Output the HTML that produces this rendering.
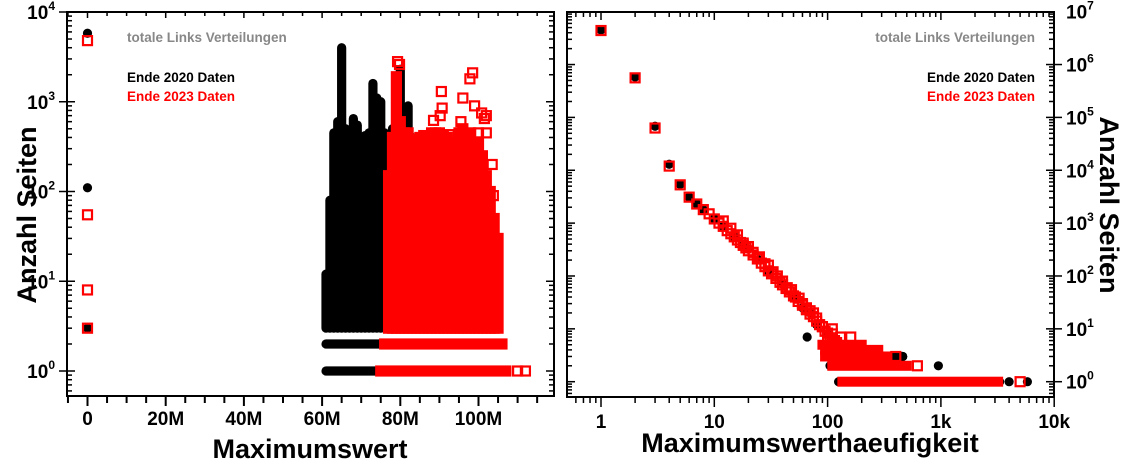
<!DOCTYPE html>
<html><head><meta charset="utf-8"><style>
html,body{margin:0;padding:0;background:#fff}
svg{display:block;font-family:"Liberation Sans",sans-serif}
</style></head><body>
<svg id="chart" width="1123" height="460" viewBox="0 0 1123 460">
<g id="L"></g>
<g id="R"></g>
</svg>
<script>
// ---- Left panel data (Maximumswert in millions, count) ----
const leftBlackBinsM = [61,62,63,64,65,66,67,68,69,70,71,72,73,74,75,76,77,78,79,80,81,82,83];
const leftBlackBinsTop = [12,80,450,600,4000,500,450,650,550,350,420,450,1600,1100,1000,450,400,500,500,2300,450,900,400];
const leftRedBinsM = [77,78,79,80,81,82,83,84,85,86,87,88,89,90,91,92,93,94,95,96,97,98,99,100,101,102,103,104,105];
const leftRedBinsTop = [150,400,1900,600,450,450,380,370,400,380,400,450,450,450,420,400,350,300,450,500,400,450,350,350,250,150,100,50,30];
const leftBlackRows = [[2,61,77],[1,61,75]];
const leftRedRows = [[2,76,106],[1,75,107]];
const leftBlackPtsX = [0,0,0];
const leftBlackPtsY = [5800,110,3];
const leftRedPtsX = [0,0,0,0,79.3,79.8,90.5,90.7,90.2,88.5,96,97.8,98.5,99,100.8,101.5,102,95.5,100,102,103.5,103.8,86,92.5,110,112];
const leftRedPtsY = [4800,55,8,3,2800,2600,1300,850,700,620,1100,1800,2100,900,750,650,700,600,450,450,200,90,420,430,1,1];
const leftXTicks = [0,20,40,60,80,100];
const leftXTickLabels = ["0","20M","40M","60M","80M","100M"];
const leftYExp = [0,1,2,3,4];

// ---- Right panel data (frequency, count) ----
const rightRedX = [1,2,3,4,5,6,7,8,9,10,11,12,13,14,15,16,17,18,19,20,22,24,26,28,30,32,35,38,40,43,46,50,55,60,65,70,75,80,90,100,110,120,
  12,14,16,18,20,22,25,28,30,33,36,40,44,48,52,56,60,65,70,75,80,85,90,95,100,105,110,115,120,
  110,130,160,400,620,5000];
const rightRedY = [4400000,560000,63000,12000,5300,3100,2300,1800,1500,1200,1000,870,720,630,550,480,430,380,340,300,250,210,175,150,125,110,90,76,68,58,50,42,33,28,23,19,17,14,11,8.3,6.6,5.5,
  1100,800,600,420,360,280,230,170,160,120,100,80,60,55,40,38,30,25,22,20,16,12,11,9,7,6.5,8,6,5,
  10,7,7,3,2,1];
const rightBlackX = [1,2,3,4,5,6,7,8,10,12,15,18,20,25,30,40,50,60,66,70,80,100,120,160,200,330,460,950,4000,5800];
const rightBlackY = [4500000,580000,68000,13000,5400,3100,2300,1800,1200,870,550,380,320,200,120,70,40,25,7,20,12,8,5,5,5,3,3,2,1,1];
const rightRedRows = [[1,135,3200],[2,110,500],[3,95,330],[4,95,280],[5,90,200]];
const rightBlackRows = [[1,125,3300],[2,105,480],[3,100,460]];
const rightXTicks = [1,10,100,1000,10000];
const rightXTickLabels = ["1","10","100","1k","10k"];
const rightYExp = [0,1,2,3,4,5,6,7];

const NS = "http://www.w3.org/2000/svg";
function mk(parent, tag, attrs, text){
  const e = document.createElementNS(NS, tag);
  for (const k in attrs) e.setAttribute(k, attrs[k]);
  if (text !== undefined) e.textContent = text;
  parent.appendChild(e); return e;
}
// axis functions
const LX = m => 87.5 + 3.91*m;
const LY = v => 371 - 89.75*Math.log10(v);
const RX = k => 601 + 113.3*Math.log10(k);
const RY = v => 381.7 - 52.86*Math.log10(v);

const L = document.getElementById('L');
const R = document.getElementById('R');

function circle(g, x, y, name){
  const c = mk(g,'circle',{cx:x,cy:y,r:4.6,fill:'#000'});
  
  
}
function square(g, x, y, name){
  const s = mk(g,'rect',{x:x-4.5,y:y-4.5,width:9,height:9,fill:'none',stroke:'#f00','stroke-width':2.2});
  
  
}
function row(g, x1, x2, y, color, h, name){
  const r = mk(g,'rect',{x:x1-h/2,y:y-h/2,width:x2-x1+h,height:h,rx:h/2,fill:color});
  
  
}

// ---------- LEFT PANEL ----------
(function(){
  const g = mk(L,'g',{});
  const bot = LY(3);
  // black columns
  leftBlackBinsM.forEach((m,i)=>{
    const top = LY(leftBlackBinsTop[i]);
    const r = mk(g,'rect',{x:LX(m)-4.6,y:top-4.6,width:9.2,height:bot-top+9.2,rx:4.6,fill:'#000'});
    
    
  });
  leftBlackRows.forEach(rw=>row(g, LX(rw[1]), LX(rw[2]), LY(rw[0]), '#000', 9.2, 'black-row'));
  leftBlackPtsX.forEach((m,i)=>circle(g, LX(m), LY(leftBlackPtsY[i]), 'black-point'));
  // red columns
  leftRedBinsM.forEach((m,i)=>{
    const top = LY(leftRedBinsTop[i]);
    const r = mk(g,'rect',{x:LX(m)-5.6,y:top-5.6,width:11.2,height:bot-top+11.2,fill:'#f00'});
    
    
  });
  leftRedRows.forEach(rw=>{
    const r = mk(g,'rect',{x:LX(rw[1])-5.6,y:LY(rw[0])-5.6,width:LX(rw[2])-LX(rw[1])+11.2,height:11.2,fill:'#f00'});
    
    
  });
  leftRedPtsX.forEach((m,i)=>square(g, LX(m), LY(leftRedPtsY[i]), 'red-point'));
  // frame
  const f = mk(L,'rect',{x:67,y:12,width:487,height:384,fill:'none',stroke:'#000','stroke-width':2});
  
  
  // x ticks
  for (let m=-5; m<=115; m+=5){
    const x = LX(m); if (x<67||x>554) continue;
    const maj = m%20===0;
    mk(L,'line',{x1:x,y1:396,x2:x,y2:396+(maj?10:7),stroke:'#000','stroke-width':2});
    mk(L,'line',{x1:x,y1:12,x2:x,y2:12+(maj?6:4),stroke:'#000','stroke-width':1.5});
  }
  leftXTicks.forEach((m,i)=>{
    const t = mk(L,'text',{x:LX(m),y:425,'text-anchor':'middle','font-size':19,'font-weight':'bold'}, leftXTickLabels[i]);
    
    
  });
  // y ticks
  for (let e=-1; e<=4; e++){
    for (let d=1; d<=9; d++){
      const v = d*Math.pow(10,e); const y = LY(v);
      if (y<12||y>396) continue;
      const maj = d===1;
      mk(L,'line',{x1:maj?59:67,y1:y,x2:67+(maj?8:5),y2:y,stroke:'#000','stroke-width':1.5});
      mk(L,'line',{x1:554-(maj?8:5),y1:y,x2:554,y2:y,stroke:'#000','stroke-width':1.5});
    }
  }
  leftYExp.forEach(e=>{
    const t = mk(L,'text',{x:55,y:LY(Math.pow(10,e))+7,'text-anchor':'end','font-size':19,'font-weight':'bold'});
    
    
    mk(t,'tspan',{},'10');
    mk(t,'tspan',{'font-size':12,dy:-9},String(e));
  });
  const xt = mk(L,'text',{x:310,y:458,'text-anchor':'middle','font-size':27,'font-weight':'bold'},'Maximumswert');
  
  
  const yt = mk(L,'text',{x:0,y:0,transform:'translate(36,215) rotate(-90)','text-anchor':'middle','font-size':27,'font-weight':'bold'},'Anzahl Seiten');
  
  
  const t1 = mk(L,'text',{x:127,y:42,'font-size':13.5,'font-weight':'bold',fill:'#888'},'totale Links Verteilungen');
  
  
  const t2 = mk(L,'text',{x:127,y:82,'font-size':13.5,'font-weight':'bold',fill:'#000'},'Ende 2020 Daten');
  
  
  const t3 = mk(L,'text',{x:127,y:101,'font-size':13.5,'font-weight':'bold',fill:'#f00'},'Ende 2023 Daten');
  
  
})();

// ---------- RIGHT PANEL ----------
(function(){
  const g = mk(R,'g',{});
  rightBlackRows.forEach(rw=>row(g, RX(rw[1]), RX(rw[2]), RY(rw[0]), '#000', 9.2, 'black-row'));
  rightBlackX.forEach((k,i)=>circle(g, RX(k), RY(rightBlackY[i]), 'black-point'));
  rightRedRows.forEach(rw=>{
    const r = mk(g,'rect',{x:RX(rw[1])-5,y:RY(rw[0])-5,width:RX(rw[2])-RX(rw[1])+10,height:10,fill:'#f00'});
    
    
  });
  rightRedX.forEach((k,i)=>square(g, RX(k), RY(rightRedY[i]), 'red-point'));
  const f = mk(R,'rect',{x:567,y:12,width:487,height:385,fill:'none',stroke:'#000','stroke-width':2});
  
  
  for (let e=-1; e<=4; e++){
    for (let d=1; d<=9; d++){
      const x = RX(d*Math.pow(10,e)); if (x<567||x>1055) continue;
      const maj = d===1;
      mk(R,'line',{x1:x,y1:397,x2:x,y2:397+(maj?10:6),stroke:'#000','stroke-width':1.5});
      mk(R,'line',{x1:x,y1:12,x2:x,y2:12+(maj?8:5),stroke:'#000','stroke-width':1.5});
    }
  }
  rightXTicks.forEach((k,i)=>{
    const t = mk(R,'text',{x:RX(k),y:428,'text-anchor':'middle','font-size':19,'font-weight':'bold'}, rightXTickLabels[i]);
    
    
  });
  for (let e=-1; e<=7; e++){
    for (let d=1; d<=9; d++){
      const y = RY(d*Math.pow(10,e)); if (y<12||y>397) continue;
      const maj = d===1;
      mk(R,'line',{x1:567,y1:y,x2:567+(maj?8:5),y2:y,stroke:'#000','stroke-width':1.5});
      mk(R,'line',{x1:1054-(maj?8:5),y1:y,x2:maj?1062:1054,y2:y,stroke:'#000','stroke-width':1.5});
    }
  }
  rightYExp.forEach(e=>{
    const t = mk(R,'text',{x:1066,y:RY(Math.pow(10,e))+7,'text-anchor':'start','font-size':19,'font-weight':'bold'});
    
    
    mk(t,'tspan',{},'10');
    mk(t,'tspan',{'font-size':12,dy:-9},String(e));
  });
  const xt = mk(R,'text',{x:810,y:452,'text-anchor':'middle','font-size':27,'font-weight':'bold'},'Maximumswerthaeufigkeit');
  
  
  const yt = mk(R,'text',{x:0,y:0,transform:'translate(1100,205) rotate(90)','text-anchor':'middle','font-size':27,'font-weight':'bold'},'Anzahl Seiten');
  
  
  const t1 = mk(R,'text',{x:1035,y:42,'text-anchor':'end','font-size':13.5,'font-weight':'bold',fill:'#888'},'totale Links Verteilungen');
  
  
  const t2 = mk(R,'text',{x:1035,y:82,'text-anchor':'end','font-size':13.5,'font-weight':'bold',fill:'#000'},'Ende 2020 Daten');
  
  
  const t3 = mk(R,'text',{x:1035,y:101,'text-anchor':'end','font-size':13.5,'font-weight':'bold',fill:'#f00'},'Ende 2023 Daten');
  
  
})();
</script>
</body></html>
